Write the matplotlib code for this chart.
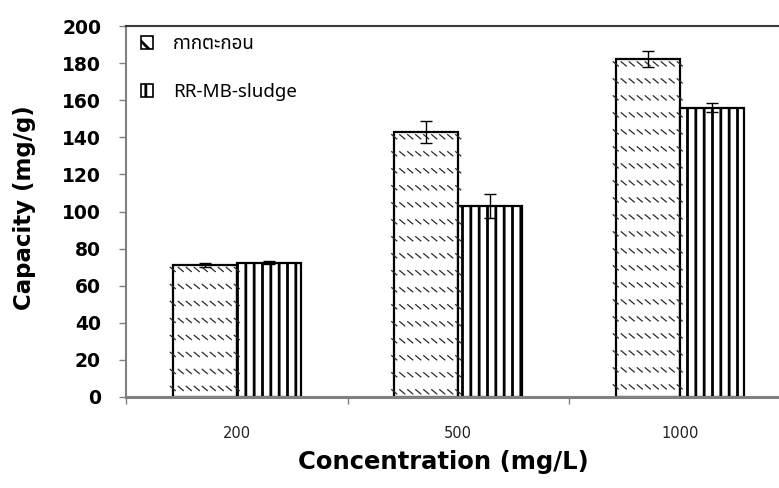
import matplotlib
matplotlib.use("Agg")
import matplotlib.pyplot as plt
from matplotlib import font_manager
from matplotlib.ft2font import FT2Font
from matplotlib.patches import Patch
from matplotlib.collections import LineCollection

# ---- data -------------------------------------------------------------
concentrations = ["200", "500", "1000"]
series_names = ["กากตะกอน", "RR-MB-sludge"]
sludge_values = [71.2, 142.7, 182.0]
sludge_errors = [1.3, 5.9, 4.3]
rrmb_values = [72.4, 103.0, 156.0]
rrmb_errors = [0.7, 6.7, 2.4]
y_ticks = [0, 20, 40, 60, 80, 100, 120, 140, 160, 180, 200]


def thai_capable_families():
    """Return installed font family names that contain Thai glyphs."""
    found = []
    for entry in font_manager.fontManager.ttflist:
        try:
            if 0x0E01 in FT2Font(entry.fname).get_charmap():
                if entry.name not in found:
                    found.append(entry.name)
        except Exception:
            continue
    preferred = ["Noto Sans Thai", "Noto Sans Thai UI", "Sarabun", "Loma",
                 "Garuda", "Norasi", "Kinnari", "Waree", "Umpush"]
    found.sort(key=lambda n: preferred.index(n) if n in preferred else len(preferred))
    return found


thai_fonts = thai_capable_families()
legend_family = thai_fonts[:1] + ["DejaVu Sans"]

W, H, DPI = 779, 488, 100
plt.rcParams["hatch.linewidth"] = 2.0
fig = plt.figure(figsize=(W / DPI, H / DPI), dpi=DPI)

# plot area in pixels: left 126, top 26, bottom 397, category pitch ~221.5 px
ax_left, ax_top, ax_bottom, ax_width = 126, 26, 397, 664.5
ax = fig.add_axes([ax_left / W, (H - ax_bottom) / H, ax_width / W,
                   (ax_bottom - ax_top) / H])
ax.set_xlim(-0.5, 2.5)
ax.set_ylim(0, 200)

px_x = 3.0 / ax_width                # data units per pixel (x)
px_y = 200.0 / (ax_bottom - ax_top)  # data units per pixel (y)
bar_w = 64 * px_x

xs = list(range(len(concentrations)))
x_sludge = [x - bar_w / 2 for x in xs]
x_rrmb = [x + bar_w / 2 for x in xs]

sludge_bars = ax.bar(x_sludge, sludge_values, width=bar_w, color="white",
                     edgecolor="black", linewidth=1.6, zorder=2)
rrmb_bars = ax.bar(x_rrmb, rrmb_values, width=bar_w, color="white",
                   edgecolor="black", linewidth=1.6, hatch="||", zorder=2)


# rows of short diagonal dashes inside the first series' bars
def dashed_diagonal_fill(bar):
    x0 = bar.get_x()
    w = bar.get_width()
    top = bar.get_height()
    segs = []
    row = top - 2 * px_y
    while row > 0:
        cx = x0 - 3 * px_x
        while cx < x0 + w:
            segs.append([(cx, row), (cx + 6 * px_x, row - 5 * px_y)])
            cx += 8 * px_x
        row -= 17 * px_y
    lc = LineCollection(segs, colors="#2a2a2a", linewidths=0.9, zorder=2.5)
    lc.set_clip_path(bar)
    ax.add_collection(lc)


for b in sludge_bars:
    dashed_diagonal_fill(b)

ax.errorbar(x_sludge, sludge_values, yerr=sludge_errors, fmt="none",
            ecolor="black", elinewidth=1.0, capsize=4, capthick=1.0, zorder=3)
ax.errorbar(x_rrmb, rrmb_values, yerr=rrmb_errors, fmt="none",
            ecolor="black", elinewidth=1.0, capsize=4, capthick=1.0, zorder=3)

# spines
ax.spines["right"].set_visible(False)
ax.spines["top"].set_color("#3a3a3a")
ax.spines["top"].set_linewidth(1.5)
ax.spines["left"].set_color("#808080")
ax.spines["left"].set_linewidth(1.5)
ax.spines["bottom"].set_color("#808080")
ax.spines["bottom"].set_linewidth(2.2)

# y axis
ax.set_yticks(y_ticks)
ax.set_yticklabels([str(v) for v in y_ticks], fontsize=13.5,
                   fontweight="bold", family="DejaVu Sans")
ax.tick_params(axis="y", direction="out", length=5, width=1, color="#808080",
               pad=13)

# x axis: boundary ticks between categories, labels at category centres
ax.set_xticks([-0.5, 0.5, 1.5, 2.5])
ax.set_xticklabels([])
ax.tick_params(axis="x", which="major", direction="out", length=5, width=1,
               color="#808080")
ax.set_xticks(xs, minor=True)
ax.set_xticklabels(concentrations, minor=True, fontsize=10.5,
                   family="DejaVu Sans", color="#222222")
ax.tick_params(axis="x", which="minor", length=0, pad=21)

fig.text(25 / W, 1 - 208 / H, "Capacity (mg/g)", rotation=90, ha="center",
         va="center", fontsize=16.5, fontweight="bold", family="DejaVu Sans")
fig.text(443 / W, 1 - 462 / H, "Concentration (mg/L)", ha="center",
         va="center", fontsize=17.5, fontweight="bold", family="DejaVu Sans")

# legend
handles = [
    Patch(facecolor="white", edgecolor="black", hatch="\\\\", linewidth=1.2),
    Patch(facecolor="white", edgecolor="black", hatch="||", linewidth=1.2),
]
leg = fig.legend(handles, series_names, loc="upper left",
                 bbox_to_anchor=(141 / W, 1 - 35 / H), frameon=False,
                 prop={"family": legend_family, "size": 13.5},
                 handlelength=0.65, handleheight=0.65, handletextpad=1.05,
                 labelspacing=1.6, borderpad=0, borderaxespad=0)

fig.savefig("out.png", dpi=DPI)
